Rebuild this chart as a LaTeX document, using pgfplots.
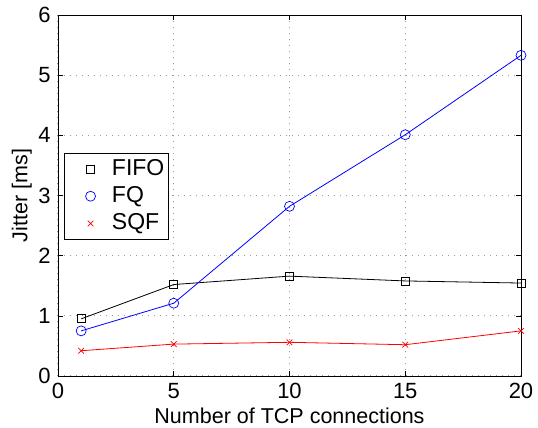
\documentclass[border=0pt]{standalone}
\usepackage{fontspec}
\setmainfont{Liberation Sans}
\usepackage{pgfplots}
\pgfplotsset{compat=1.18}
\newcommand{\bigf}{\fontsize{21.5pt}{25pt}\selectfont}
\newcommand{\tickf}{\fontsize{22pt}{25pt}\selectfont}
\newcommand{\legf}{\fontsize{23pt}{26pt}\selectfont}
\begin{document}
\bigf
\begin{tikzpicture}
\useasboundingbox (-58pt,-52pt) rectangle (480pt,376pt);
\begin{axis}[
  scale only axis,
  width=463pt, height=361pt,
  xmin=0, xmax=20, ymin=0, ymax=6,
  xtick={0,5,10,15,20}, ytick={0,1,2,3,4,5,6},
  tick align=inside,
  major tick length=5pt,
  tick style={black, line width=0.6pt},
  axis line style={line width=0.8pt},
  grid=major,
  grid style={dash pattern=on 1pt off 5pt, gray!80, line width=1pt},
  /pgf/number format/assume math mode=true,
  ticklabel style={font=\tickf},
  label style={font=\bigf},
  xlabel={Number of TCP connections},
  ylabel={Jitter [ms]},
  xlabel style={yshift=6pt},
  ylabel style={yshift=-8pt},
  legend style={at={(0.0135,0.618)}, anchor=north west, draw=black, line width=0.8pt,
    font=\legf, row sep=4pt, inner xsep=2.5pt, inner ysep=4pt,
    nodes={inner sep=2pt}},
  legend cell align=left,
  legend image code/.code={\path (0pt,0pt) (42pt,0pt); \draw[#1] plot[only marks] coordinates {(23pt,0pt)};},
]
\addplot[black, line width=0.8pt, mark=square, mark size=4pt, mark options={line width=0.7pt}] coordinates {
(1,0.95) (5,1.52) (10,1.66) (15,1.58) (20,1.545)};
\addlegendentry{FIFO}
\addplot[blue, line width=0.8pt, mark=o, mark size=5pt, mark options={line width=0.7pt}] coordinates {
(1,0.75) (5,1.21) (10,2.82) (15,4.01) (20,5.33)};
\addlegendentry{FQ}
\addplot[red, line width=0.8pt, mark=x, mark size=4pt, mark options={line width=0.7pt}] coordinates {
(1,0.42) (5,0.53) (10,0.56) (15,0.52) (20,0.75)};
\addlegendentry{SQF}
\end{axis}
\end{tikzpicture}
\end{document}
